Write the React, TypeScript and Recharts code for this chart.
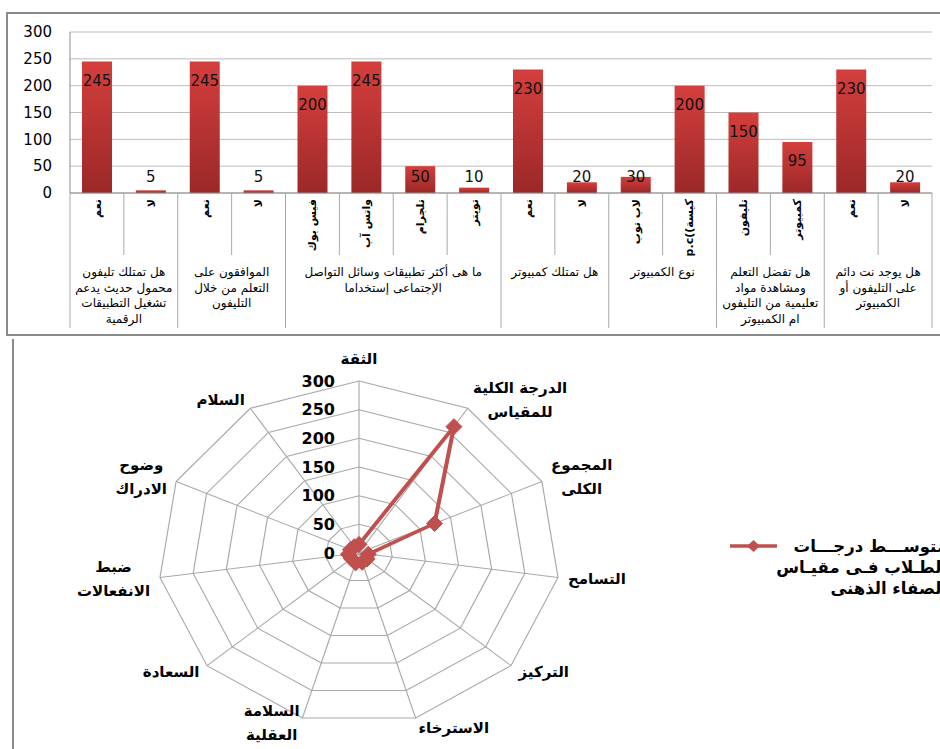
import React from 'react';
import {
  Bar, BarChart, CartesianGrid, LabelList, Legend, PolarAngleAxis, PolarGrid,
  PolarRadiusAxis, Radar, RadarChart, XAxis, YAxis,
} from 'recharts';

// top chart: survey answers
const barCategories = [
  'نعم', 'لا', 'نعم', 'لا', 'فيس بوك', 'واتس آب', 'تلجرام', 'تويتر',
  'نعم', 'لا', 'لاب توب', 'p.c((كيسة', 'تليفون', 'كمبيوتر', 'نعم', 'لا',
];
const barValues = [245, 5, 245, 5, 200, 245, 50, 10, 230, 20, 30, 200, 150, 95, 230, 20];
const barGroupSizes = [2, 2, 4, 2, 2, 2, 2];
const barGroupTitles = [
  ['هل تمتلك تليفون', 'محمول حديث يدعم', 'تشغيل التطبيقات', 'الرقمية'],
  ['الموافقون على', 'التعلم من خلال', 'التليفون'],
  ['ما هى أكثر تطبيقات وسائل التواصل', 'الإجتماعى إستخداما'],
  ['هل تمتلك كمبيوتر'],
  ['نوع الكمبيوتر'],
  ['هل تفضل التعلم', 'ومشاهدة مواد', 'تعليمية من التليفون', 'ام الكمبيوتر'],
  ['هل يوجد نت دائم', 'على التليفون أو', 'الكمبيوتر'],
];
const barTicks = [0, 50, 100, 150, 200, 250, 300];

// bottom chart: mental clarity scale
const radarAxes = [
  'الثقة', 'الدرجة الكلية\nللمقياس', 'المجموع\nالكلى', 'التسامح', 'التركيز', 'الاسترخاء',
  'السلامة\nالعقلية', 'السعادة', 'ضبط\nالانفعالات', 'وضوح\nالادراك', 'السلام',
];
const radarValues = [15, 262, 124, 14, 16, 17, 18, 15, 16, 14, 13];
const radarTicks = [0, 50, 100, 150, 200, 250, 300];
const radarSeriesName = 'متوســـط درجـــات\nالطـلاب فـى مقيـاس\nالصفاء الذهنى';

const FONT = 'DejaVu Sans';
const RED = '#c0504d';
const GRID = '#a9a9a9';

const barData = barCategories.map((label, i) => ({ label, value: barValues[i] }));
const groupStarts: number[] = [];
barGroupSizes.reduce((acc, n) => { groupStarts.push(acc); return acc + n; }, 0);

const radarData = radarAxes.map((axis, i) => ({ axis, value: radarValues[i] }));

// radar is drawn as an ellipse: grid + series get stretched in x
const CX = 359;
const CY = 213;
const R = 172;
const SX = 1.169;

let measureCtx: CanvasRenderingContext2D | null = null;
function textWidth(s: string, font: string) {
  if (!measureCtx) measureCtx = document.createElement('canvas').getContext('2d');
  if (!measureCtx) return s.length * 8;
  measureCtx.font = font;
  return measureCtx.measureText(s).width;
}

function CategoryTick(props: any) {
  const { x, y, payload } = props;
  const half = payload.offset || 27;
  const i = payload.index ?? props.index;
  const g = groupStarts.indexOf(i);
  const left = x - half;
  const last = i === barCategories.length - 1;
  return (
    <g>
      <line x1={left} x2={left} y1={y} y2={g >= 0 ? y + 135 : y + 62} stroke={GRID} />
      {last && <line x1={x + half} x2={x + half} y1={y} y2={y + 135} stroke={GRID} />}
      <text
        x={x} y={y + 6} transform={`rotate(-90, ${x}, ${y + 6})`} textAnchor="end" dy="0.35em"
        fontSize={11} fontWeight="bold" fontFamily={FONT} fill="#000"
      >
        {payload.value}
      </text>
      {g >= 0 && barGroupTitles[g].map((line, k) => (
        <text
          key={k} x={left + barGroupSizes[g] * half} y={y + 79 + k * 15.5} textAnchor="middle"
          dominantBaseline="central" fontSize={12} fontFamily={FONT} fill="#000"
        >
          {line}
        </text>
      ))}
    </g>
  );
}

function BarValueLabel(props: any) {
  const { x, y, width, height, value } = props;
  const base = y + height;
  const cy = Math.min(y + 19, base - 16);
  return (
    <text x={x + width / 2} y={cy} textAnchor="middle" dominantBaseline="central"
      fontSize={15} fontFamily={FONT} fill="#111">
      {value}
    </text>
  );
}

function AngleTick(props: any) {
  const { payload } = props;
  const rad = (payload.coordinate * Math.PI) / 180;
  const ux = Math.cos(rad);
  const uy = -Math.sin(rad);
  const vx = CX + R * SX * ux;
  const vy = CY + R * uy;
  const pad = 10;
  const px = vx + pad * ux;
  const py = vy + pad * uy;
  const lines = String(payload.value).split('\n');
  const font = `bold 15px "${FONT}"`;
  const w = Math.max(...lines.map((l) => textWidth(l, font)));
  const lh = 24;
  const h = lines.length * lh;
  const cx = Math.abs(ux) < 0.15 ? px : ux > 0 ? px + w / 2 : px - w / 2;
  let cy = uy < -0.99 ? py - h / 2 : uy > 0.99 ? py + h / 2 : py;
  if (uy > 0.9 && lines.length > 1) cy -= 5;
  return (
    <g>
      {lines.map((l, k) => (
        <text key={k} x={cx} y={cy - h / 2 + lh * (k + 0.5)} textAnchor="middle" dominantBaseline="central"
          fontSize={15} fontWeight="bold" fontFamily={FONT} fill="#000">
          {l}
        </text>
      ))}
    </g>
  );
}

function RadiusTick(props: any) {
  const { x, y, payload } = props;
  return (
    <text x={x - 24} y={y} textAnchor="end" dominantBaseline="central"
      fontSize={16} fontWeight="bold" fontFamily={FONT} fill="#000">
      {payload.value}
    </text>
  );
}

// dots sit outside the stretched layer, so move them onto the ellipse here
function Diamond(props: any) {
  const { cx, cy, index } = props;
  if (cx == null || cy == null) return <g key={index} />;
  const x = CX + (cx - CX) * SX;
  return (
    <polygon key={index} points={`${x},${cy - 8} ${x + 8},${cy} ${x},${cy + 8} ${x - 8},${cy}`} fill={RED} stroke={RED} />
  );
}

function RadarLegend(props: any) {
  const item = props.payload?.[0];
  const color = item?.color || RED;
  const lines = String(item?.value ?? radarSeriesName).split('\n');
  return (
    <svg width={240} height={70} style={{ overflow: 'visible' }}>
      <line x1={5} x2={52} y1={10} y2={10} stroke={color} strokeWidth={3.5} />
      <polygon points="28.5,4 35,10 28.5,16 22,10" fill={color} />
      {lines.map((l, k) => (
        <text key={k} x={222} y={10 + k * 21} textAnchor="end" dominantBaseline="central"
          fontSize={16.5} fontWeight="bold" fontFamily={FONT} fill="#000">
          {l}
        </text>
      ))}
    </svg>
  );
}

export default function App() {
  return (
    <div style={{ position: 'absolute', left: 0, top: 0, width: 940, height: 749, overflow: 'hidden', background: '#fff' }}>
      <style>{`
        .radar-box .recharts-polar-grid, .radar-box .recharts-radar {
          transform-origin: ${CX}px ${CY}px;
          transform: scaleX(${SX});
        }
      `}</style>
      <div style={{ position: 'absolute', left: 6, top: 12, width: 1000, height: 320, border: '2px solid #8a8a8a' }} />
      <div style={{ position: 'absolute', left: 0, top: 0 }}>
        <BarChart width={940} height={340} data={barData} margin={{ top: 32, right: 8, bottom: 0, left: 10 }} barSize={30}>
          <defs>
            <linearGradient id="barFill" x1="0" y1="0" x2="0" y2="1">
              <stop offset="0%" stopColor="#d43f3d" />
              <stop offset="100%" stopColor="#9b2828" />
            </linearGradient>
          </defs>
          <CartesianGrid vertical={false} stroke="#bdbdbd" />
          <XAxis dataKey="label" height={147} interval={0} tickLine={false} tickSize={0} tickMargin={0}
            axisLine={{ stroke: '#8c8c8c' }} tick={<CategoryTick />} />
          <YAxis width={60} domain={[0, 300]} ticks={barTicks} tickLine={false} tickSize={6} tickMargin={12}
            axisLine={{ stroke: '#8c8c8c' }} tick={{ fill: '#000', fontSize: 15, fontFamily: FONT }} />
          <Bar dataKey="value" fill="url(#barFill)" isAnimationActive={false}>
            <LabelList dataKey="value" content={<BarValueLabel />} />
          </Bar>
        </BarChart>
      </div>
      <div style={{ position: 'absolute', left: 12, top: 339, width: 2, height: 420, background: '#8a8a8a' }} />
      <div className="radar-box" style={{ position: 'absolute', left: 0, top: 340 }}>
        <RadarChart width={940} height={409} cx={CX} cy={CY} outerRadius={R} data={radarData}
          margin={{ top: 0, right: 0, bottom: 0, left: 0 }}>
          <PolarGrid gridType="polygon" stroke={GRID} />
          <PolarAngleAxis dataKey="axis" tick={<AngleTick />} tickLine={false} axisLine={false} />
          <PolarRadiusAxis angle={90} domain={[0, 300]} ticks={radarTicks} tickCount={7}
            tick={<RadiusTick />} axisLine={false} tickLine={false} />
          <Radar name={radarSeriesName} dataKey="value" stroke={RED} strokeWidth={3.5} fill="none" fillOpacity={0}
            dot={<Diamond />} isAnimationActive={false} />
          <Legend content={<RadarLegend />} layout="vertical" align="right" verticalAlign="middle"
            wrapperStyle={{ left: 725, top: 196, width: 240, right: 'auto', bottom: 'auto' }} />
        </RadarChart>
      </div>
    </div>
  );
}
